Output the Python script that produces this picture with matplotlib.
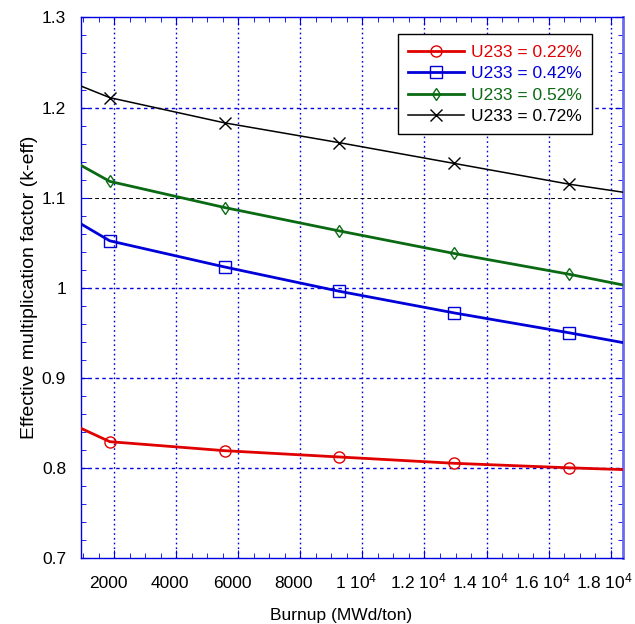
import matplotlib
matplotlib.use("Agg")
import matplotlib.pyplot as plt
import matplotlib.transforms as mtransforms
import numpy as np

plt.rcParams['font.family'] = ['Liberation Sans', 'DejaVu Sans']
plt.rcParams['mathtext.fontset'] = 'custom'
plt.rcParams['mathtext.rm'] = 'Liberation Sans'
plt.rcParams['mathtext.default'] = 'regular'

# burnup points (MWd/ton); markers sit on indices 1..5
burnup = [910, 1850, 5550, 9250, 12950, 16650, 18400]
k_022 = [0.844, 0.829, 0.819, 0.812, 0.805, 0.800, 0.798]
k_042 = [1.071, 1.052, 1.023, 0.996, 0.972, 0.950, 0.939]
k_052 = [1.136, 1.118, 1.089, 1.063, 1.038, 1.015, 1.003]
k_072 = [1.224, 1.211, 1.183, 1.161, 1.138, 1.115, 1.106]

labels = ['U233 = 0.22%', 'U233 = 0.42%', 'U233 = 0.52%', 'U233 = 0.72%']
colors = ['#e00000', '#0000d8', '#0a6a14', 'black']
markers = ['o', 's', 'd', 'x']
widths = [2.0, 2.0, 2.0, 1.1]

xticks = [2000, 4000, 6000, 8000, 10000, 12000, 14000, 16000, 18000]
xticklabels = ['2000', '4000', '6000', '8000', '1 10$^4$', '1.2 10$^4$',
               '1.4 10$^4$', '1.6 10$^4$', '1.8 10$^4$']
yticks = [0.7, 0.8, 0.9, 1.0, 1.1, 1.2, 1.3]
yticklabels = ['0.7', '0.8', '0.9', '1', '1.1', '1.2', '1.3']

fig = plt.figure(figsize=(6.35, 6.24), dpi=100)
ax = fig.add_axes([0.127, 0.106, 0.854, 0.866])

ax.set_xlim(910, 18400)
ax.set_ylim(0.7, 1.3)

blue = '#0000e0'
for x in xticks:
    ax.axvline(x, color=blue, lw=1.0, ls=(0, (1.2, 2.2)), zorder=1)
for y in [0.8, 0.9, 1.0, 1.2]:
    ax.axhline(y, color=blue, lw=1.0, ls=(0, (2.5, 2.5)), zorder=1)
ax.axhline(1.1, color='black', lw=0.7, ls=(0, (4, 3)), zorder=1)

series = [k_022, k_042, k_052, k_072]
for k, lab, c, m, w in zip(series, labels, colors, markers, widths):
    ax.plot(burnup, k, color=c, lw=w, marker=m, markevery=[1, 2, 3, 4, 5],
            markersize=8 if m != 'd' else 6, markerfacecolor='none',
            markeredgecolor=c, markeredgewidth=1.0, label=lab, zorder=3)

ax.set_xticks(xticks)
ax.set_xticklabels(xticklabels)
ax.set_yticks(yticks)
ax.set_yticklabels(yticklabels)
ax.set_xticks(np.arange(1000, 18401, 500), minor=True)
ax.set_yticks(np.arange(0.7, 1.301, 0.02), minor=True)
ax.tick_params(which='both', direction='in', top=True, right=True, color=blue)
ax.tick_params(which='major', length=6, labelsize=12.5)
ax.tick_params(axis='x', which='major', pad=22)
ax.tick_params(axis='y', which='major', pad=10.5)
ax.tick_params(which='minor', length=3.5)

# kaleidagraph-ish labels: baseline aligned, nudged a bit left
shift = mtransforms.ScaledTranslation(-0.065, 0, fig.dpi_scale_trans)
for lab in ax.get_xticklabels():
    lab.set_va('baseline')
    lab.set_transform(lab.get_transform() + shift)

for s in ax.spines.values():
    s.set_color(blue)
    s.set_linewidth(1.0)
ax.spines['right'].set_linewidth(2.0)
ax.spines['right'].set_color('#6a6af0')

ax.set_xlabel('Burnup (MWd/ton)', fontsize=12.5, labelpad=12)
ax.xaxis.label.set_x((341 - 80.7) / 542)
ax.set_ylabel('Effective multiplication factor (k-eff)', fontsize=14, labelpad=3)

leg = ax.legend(loc='upper right', bbox_to_anchor=(0.943, 0.969), fontsize=12.5,
                frameon=True, fancybox=False, framealpha=1, edgecolor='black',
                handlelength=3.2, labelspacing=0.36, borderpad=0.6,
                handletextpad=0.4, borderaxespad=0)
leg.get_frame().set_linewidth(1.0)
for t, c in zip(leg.get_texts(), colors):
    t.set_color(c)

fig.savefig('out.png', dpi=100)
